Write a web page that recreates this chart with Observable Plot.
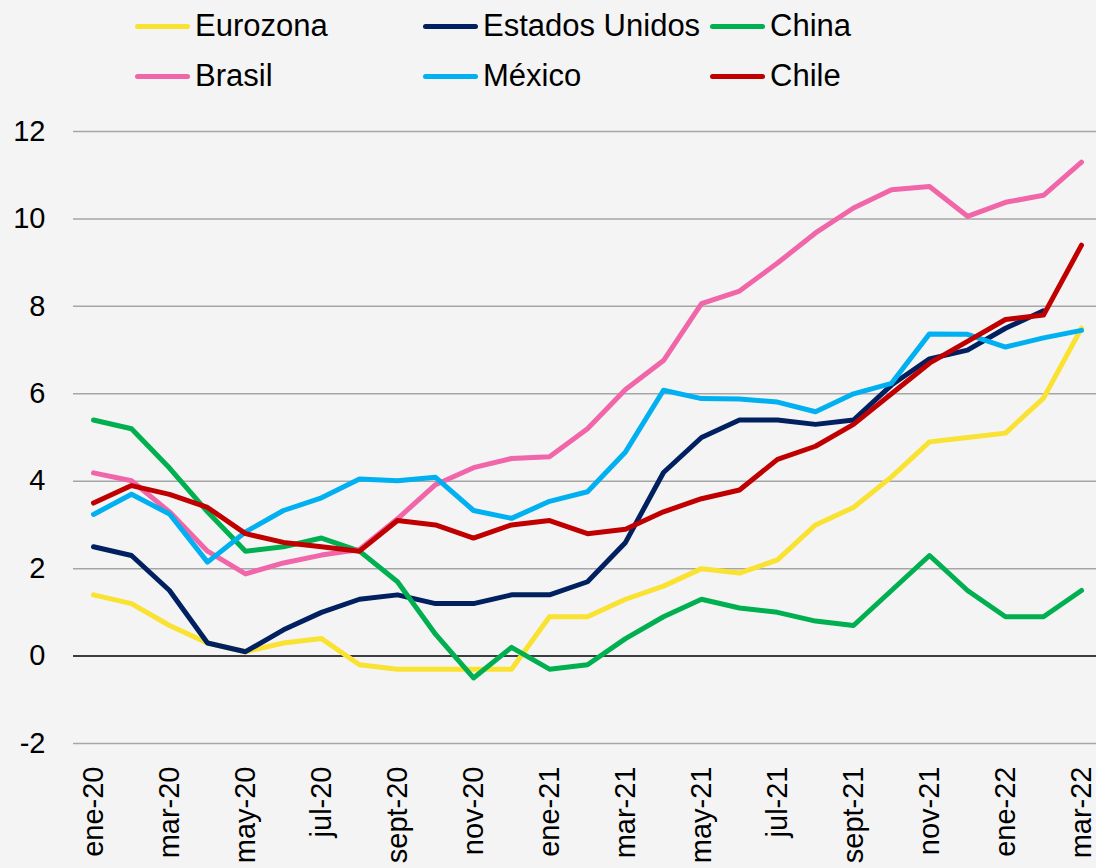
<!DOCTYPE html>
<html>
<head>
<meta charset="utf-8">
<script src="https://cdn.jsdelivr.net/npm/d3@7"></script>
<script src="https://cdn.jsdelivr.net/npm/@observablehq/plot@0.6"></script>
<style>
  html, body { margin: 0; padding: 0; background: #f4f4f4; }
  body { width: 1096px; height: 868px; overflow: hidden; font-family: "Liberation Sans", Arial, sans-serif; }
  #legend { position: relative; width: 1096px; height: 110px; }
  .item { position: absolute; display: flex; align-items: center; font-size: 31px; color: #000; height: 40px; }
  .sw { width: 55px; height: 5px; border-radius: 3px; margin-right: 5px; }
  #chart svg { display: block; }
</style>
</head>
<body>
<div id="legend"></div>
<div id="chart"></div>
<script>
const months = ["ene-20","feb-20","mar-20","abr-20","may-20","jun-20","jul-20","ago-20","sept-20","oct-20","nov-20","dic-20",
  "ene-21","feb-21","mar-21","abr-21","may-21","jun-21","jul-21","ago-21","sept-21","oct-21","nov-21","dic-21",
  "ene-22","feb-22","mar-22"];
const tickLabels = ["ene-20","mar-20","may-20","jul-20","sept-20","nov-20","ene-21","mar-21","may-21","jul-21","sept-21","nov-21","ene-22","mar-22"];
const yTicks = [-2, 0, 2, 4, 6, 8, 10, 12];

const seriesNames = ["Eurozona", "Estados Unidos", "China", "Brasil", "México", "Chile"];
const seriesColors = ["#F9E231", "#002060", "#00B050", "#F066A8", "#00B0F0", "#C00000"];

const eurozona = [1.4,1.2,0.7,0.3,0.1,0.3,0.4,-0.2,-0.3,-0.3,-0.3,-0.3,0.9,0.9,1.3,1.6,2.0,1.9,2.2,3.0,3.4,4.1,4.9,5.0,5.1,5.9,7.5];
const estadosUnidos = [2.5,2.3,1.5,0.3,0.1,0.6,1.0,1.3,1.4,1.2,1.2,1.4,1.4,1.7,2.6,4.2,5.0,5.4,5.4,5.3,5.4,6.2,6.8,7.0,7.5,7.9,null];
const china = [5.4,5.2,4.3,3.3,2.4,2.5,2.7,2.4,1.7,0.5,-0.5,0.2,-0.3,-0.2,0.4,0.9,1.3,1.1,1.0,0.8,0.7,1.5,2.3,1.5,0.9,0.9,1.5];
const brasil = [4.19,4.01,3.30,2.40,1.88,2.13,2.31,2.44,3.14,3.92,4.31,4.52,4.56,5.20,6.10,6.76,8.06,8.35,8.99,9.68,10.25,10.67,10.74,10.06,10.38,10.54,11.30];
const mexico = [3.24,3.70,3.25,2.15,2.84,3.33,3.62,4.05,4.01,4.09,3.33,3.15,3.54,3.76,4.67,6.08,5.89,5.88,5.81,5.59,6.00,6.24,7.37,7.36,7.07,7.28,7.45];
const chile = [3.5,3.9,3.7,3.4,2.8,2.6,2.5,2.4,3.1,3.0,2.7,3.0,3.1,2.8,2.9,3.3,3.6,3.8,4.5,4.8,5.3,6.0,6.7,7.2,7.7,7.8,9.4];

const seriesValues = [eurozona, estadosUnidos, china, brasil, mexico, chile];

// Legend
const legend = document.getElementById("legend");
const legendX = [135, 423, 710];
const legendY = [6, 56];
seriesNames.forEach((name, i) => {
  const div = document.createElement("div");
  div.className = "item";
  div.style.left = legendX[i % 3] + "px";
  div.style.top = legendY[Math.floor(i / 3)] + "px";
  const sw = document.createElement("div");
  sw.className = "sw";
  sw.style.background = seriesColors[i];
  const t = document.createElement("span");
  t.textContent = name;
  div.appendChild(sw);
  div.appendChild(t);
  legend.appendChild(div);
});

// Data table
const rows = [];
seriesNames.forEach((name, s) => {
  seriesValues[s].forEach((v, i) => {
    if (v !== null) rows.push({serie: name, mes: months[i], valor: v});
  });
});

const chart = Plot.plot({
  width: 1096,
  height: 758,
  marginLeft: 73,
  marginRight: 0,
  marginTop: 21,
  marginBottom: 125,
  style: {background: "transparent", fontFamily: "'Liberation Sans', Arial, sans-serif", color: "#000"},
  x: {type: "point", domain: months, range: [92, 1081], padding: 0, label: null},
  y: {domain: [-2, 12], range: [633, 21], label: null},
  color: {domain: seriesNames, range: seriesColors},
  marks: [
    Plot.ruleY(yTicks.filter(d => d !== 0), {stroke: "#a6a6a6", strokeWidth: 1.5}),
    Plot.ruleY([0], {stroke: "#000", strokeWidth: 1.5}),
    Plot.axisY({ticks: yTicks, tickSize: 0, tickPadding: 28, fontSize: 29, tickFormat: d => String(d), label: null}),
    Plot.axisX({ticks: tickLabels, tickSize: 0, tickPadding: 23, tickRotate: -90, fontSize: 29, label: null}),
    Plot.line(rows, {x: "mes", y: "valor", z: "serie", stroke: "serie", strokeWidth: 5, strokeLinecap: "round", strokeLinejoin: "round"})
  ]
});
document.getElementById("chart").appendChild(chart);
</script>
</body>
</html>
